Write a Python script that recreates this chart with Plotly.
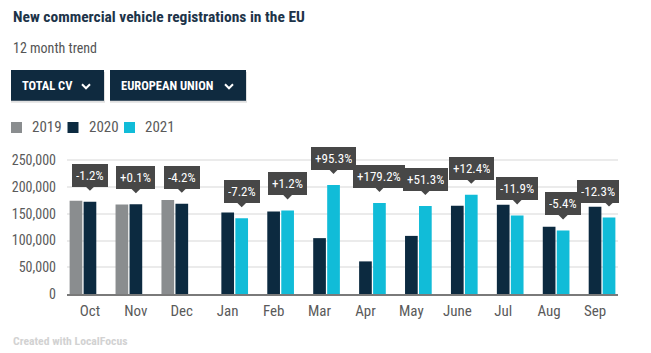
import plotly.graph_objects as go

months = ["Oct", "Nov", "Dec", "Jan", "Feb", "Mar", "Apr", "May", "June", "Jul", "Aug", "Sep"]
reg_2019 = [174600, 167500, 176000, None, None, None, None, None, None, None, None, None]
reg_2020 = [172500, 167700, 168600, 152500, 154400, 104500, 61000, 108700, 165000, 166900, 125600, 163000]
reg_2021 = [None, None, None, 141500, 156300, 204000, 170300, 164500, 185500, 147000, 118800, 143000]
change_labels = ["-1.2%", "+0.1%", "-4.2%", "-7.2%", "+1.2%", "+95.3%", "+179.2%", "+51.3%", "+12.4%", "-11.9%", "-5.4%", "-12.3%"]
y_ticks = [0, 50000, 100000, 150000, 200000, 250000]

W, H = 651, 353
ML, MR, MT, MB = 67, 33, 155, 59
PW, PH = W - ML - MR, H - MT - MB
Y_TOP = 260000
BARGAP = 0.086
BARGROUPGAP = 0.093

FONT = "Roboto Condensed, Liberation Sans Narrow, Arial Narrow, Roboto, sans-serif"
C19, C20, C21 = "#8a8d8f", "#0c2a40", "#11bcd8"
NAVY = "#0f2a3f"
BOXC = "#474747"
GREY_TXT = "#5a5a5a"


def px(x):
    return (x - ML) / PW


def py(y):
    return (H - MB - y) / PH


fig = go.Figure()
for name, vals, col in [("2019", reg_2019, C19), ("2020", reg_2020, C20), ("2021", reg_2021, C21)]:
    fig.add_trace(go.Bar(x=list(range(len(months))), y=vals, name=name, marker_color=col,
                         marker_line_width=0, hoverinfo="skip"))

slot = (1 - BARGAP) / 3
annotations = []
shapes = []
for i, lab in enumerate(change_labels):
    if reg_2021[i] is not None:
        xv, yv = i + slot, reg_2021[i]
    else:
        xv, yv = i, reg_2020[i]
    # pointer
    annotations.append(dict(x=xv, y=yv, xref="x", yref="y", text="", showarrow=True,
                            ax=0, ay=-17, standoff=11, arrowhead=1, arrowsize=1.7,
                            arrowwidth=1, arrowcolor=BOXC))
    box = dict(y=yv, yref="y", text=lab, showarrow=False, yanchor="bottom", yshift=15,
               bgcolor=BOXC, bordercolor=BOXC, borderwidth=0, borderpad=4, height=15,
               font=dict(family=FONT, size=13, color="white"))
    if i == len(change_labels) - 1:
        box.update(x=1.002, xref="paper", xanchor="right")
    else:
        box.update(x=xv, xref="x", xanchor="center")
    annotations.append(box)

# title / subtitle / footer
annotations += [
    dict(x=px(11), y=py(16.5), xref="paper", yref="paper", xanchor="left", yanchor="middle",
         text="<b>New commercial vehicle registrations in the EU</b>", showarrow=False,
         font=dict(family=FONT, size=15.5, color="#1d3449")),
    dict(x=px(11), y=py(48), xref="paper", yref="paper", xanchor="left", yanchor="middle",
         text="12 month trend", showarrow=False, font=dict(family=FONT, size=14, color="#555555")),
    dict(x=px(11), y=py(341), xref="paper", yref="paper", xanchor="left", yanchor="middle",
         text="<b>Created with LocalFocus</b>", showarrow=False,
         font=dict(family=FONT, size=11.7, color="#d2d2d2")),
]

# dropdown-like buttons
for (x0, x1, label, cx) in [(11, 104, "TOTAL CV", 82), (110, 246, "EUROPEAN UNION", 225)]:
    shapes.append(dict(type="rect", xref="paper", yref="paper", x0=px(x0), x1=px(x1 + 1),
                       y0=py(70 + 2), y1=py(100.7 + 2), fillcolor="rgba(0,0,0,0.12)", line_width=0, layer="above"))
    shapes.append(dict(type="rect", xref="paper", yref="paper", x0=px(x0), x1=px(x1),
                       y0=py(70), y1=py(100.7), fillcolor=NAVY, line_width=0, layer="above"))
    annotations.append(dict(x=px(x0 + 8.5), y=py(85.8), xref="paper", yref="paper", xanchor="left",
                            yanchor="middle", text="<b>" + label + "</b>", showarrow=False,
                            font=dict(family=FONT, size=12.5, color="white")))
    path = f"M{px(cx)},{py(84.3)} L{px(cx + 4)},{py(88.3)} L{px(cx + 8)},{py(84.3)}"
    shapes.append(dict(type="path", xref="paper", yref="paper", path=path,
                       line=dict(color="white", width=2), layer="above"))

# legend
for (sx, tx, name, col) in [(11, 30, "2019", C19), (67.5, 87, "2020", C20), (124, 143, "2021", C21)]:
    shapes.append(dict(type="rect", xref="paper", yref="paper", x0=px(sx), x1=px(sx + 11),
                       y0=py(122), y1=py(133), fillcolor=col, line_width=0, layer="above"))
    annotations.append(dict(x=px(tx), y=py(127.5), xref="paper", yref="paper", xanchor="left",
                            yanchor="middle", text=name, showarrow=False,
                            font=dict(family=FONT, size=15, color=GREY_TXT)))

fig.update_layout(
    width=W, height=H, margin=dict(l=ML, r=MR, t=MT, b=MB, autoexpand=False),
    paper_bgcolor="white", plot_bgcolor="white",
    barmode="group", bargap=BARGAP, bargroupgap=BARGROUPGAP,
    showlegend=False, annotations=annotations, shapes=shapes,
    font=dict(family=FONT, color=GREY_TXT),
    xaxis=dict(tickmode="array", tickvals=list(range(len(months))), ticktext=months,
               range=[-0.5, len(months) - 0.5], showline=True, linecolor="#7a7a7a", linewidth=2,
               showgrid=False, zeroline=False, ticks="", ticklabelstandoff=2,
               tickfont=dict(family=FONT, size=15, color=GREY_TXT)),
    yaxis=dict(range=[0, Y_TOP], tickvals=y_ticks, tickformat=",", showgrid=True,
               gridcolor="#ebebeb", gridwidth=1.5, zeroline=False, showline=False, ticks="",
               ticklabelstandoff=10, tickfont=dict(family=FONT, size=14, color=GREY_TXT)),
    hovermode=False,
)

fig.write_html("out.html")
